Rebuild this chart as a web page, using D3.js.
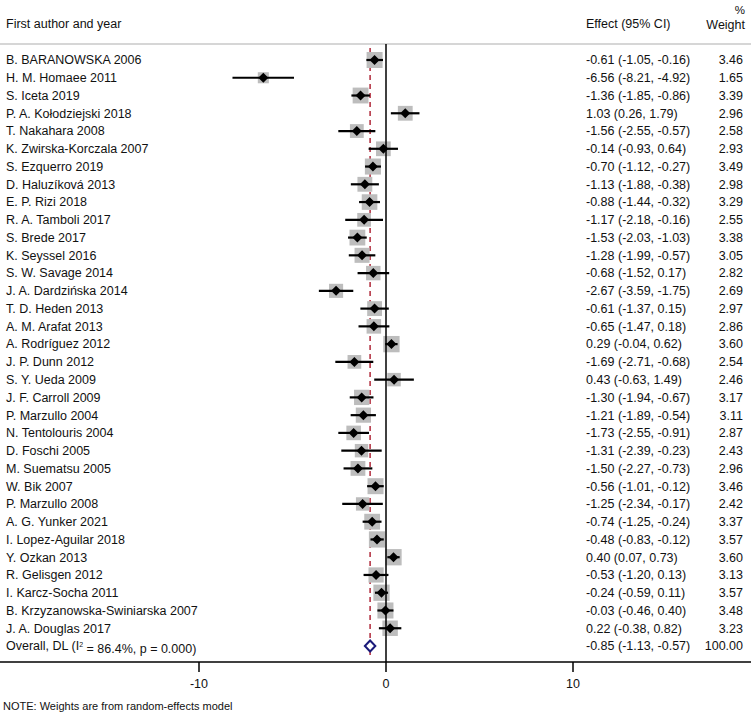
<!DOCTYPE html>
<html><head><meta charset="utf-8">
<script src="https://cdn.jsdelivr.net/npm/d3@7"></script>
<style>
body{margin:0;background:#fff;}
text{font-family:"Liberation Sans",Arial,Helvetica,sans-serif;fill:#111;}
</style></head>
<body><svg id="c" width="751" height="716"></svg>
<script>
const studies = ["B. BARANOWSKA 2006","H. M. Homaee 2011","S. Iceta 2019","P. A. Kołodziejski 2018","T. Nakahara 2008","K. Zwirska-Korczala 2007","S. Ezquerro 2019","D. Haluzíková 2013","E. P. Rizi 2018","R. A. Tamboli 2017","S. Brede 2017","K. Seyssel 2016","S. W. Savage 2014","J. A. Dardzińska 2014","T. D. Heden 2013","A. M. Arafat 2013","A. Rodríguez 2012","J. P. Dunn 2012","S. Y. Ueda 2009","J. F. Carroll 2009","P. Marzullo 2004","N. Tentolouris 2004","D. Foschi 2005","M. Suematsu 2005","W. Bik 2007","P. Marzullo 2008","A. G. Yunker 2021","I. Lopez-Aguilar 2018","Y. Ozkan 2013","R. Gelisgen 2012","I. Karcz-Socha 2011","B. Krzyzanowska-Swiniarska 2007","J. A. Douglas 2017"];
const effect = [-0.61,-6.56,-1.36,1.03,-1.56,-0.14,-0.70,-1.13,-0.88,-1.17,-1.53,-1.28,-0.68,-2.67,-0.61,-0.65,0.29,-1.69,0.43,-1.30,-1.21,-1.73,-1.31,-1.50,-0.56,-1.25,-0.74,-0.48,0.40,-0.53,-0.24,-0.03,0.22];
const lower = [-1.05,-8.21,-1.85,0.26,-2.55,-0.93,-1.12,-1.88,-1.44,-2.18,-2.03,-1.99,-1.52,-3.59,-1.37,-1.47,-0.04,-2.71,-0.63,-1.94,-1.89,-2.55,-2.39,-2.27,-1.01,-2.34,-1.25,-0.83,0.07,-1.20,-0.59,-0.46,-0.38];
const upper = [-0.16,-4.92,-0.86,1.79,-0.57,0.64,-0.27,-0.38,-0.32,-0.16,-1.03,-0.57,0.17,-1.75,0.15,0.18,0.62,-0.68,1.49,-0.67,-0.54,-0.91,-0.23,-0.73,-0.12,-0.17,-0.24,-0.12,0.73,0.13,0.11,0.40,0.82];
const weight = [3.46,1.65,3.39,2.96,2.58,2.93,3.49,2.98,3.29,2.55,3.38,3.05,2.82,2.69,2.97,2.86,3.60,2.54,2.46,3.17,3.11,2.87,2.43,2.96,3.46,2.42,3.37,3.57,3.60,3.13,3.57,3.48,3.23];
const overall = {effect:-0.85, lower:-1.13, upper:-0.57, weight:100.00};
const xTicks = [-10, 0, 10];

const svg = d3.select("#c");
const W = 751, H = 716, FS = 12.5;
const x = d3.scaleLinear().domain([-10,10]).range([199,573]);
const rows = studies.concat(["__overall"]);
const y = d3.scalePoint().domain(rows).range([60,646]);
const loc = d3.formatLocale({decimal:".", thousands:",", grouping:[3], currency:["",""], minus:"-"});
const fmt = loc.format(".2f");
const boxSide = w => 8.6*Math.sqrt(w);

// header
svg.append("text").attr("x",6).attr("y",24).attr("dy","0.35em").attr("font-size",FS).text("First author and year");
svg.append("text").attr("x",586).attr("y",24).attr("dy","0.35em").attr("font-size",FS).text("Effect (95% CI)");
svg.append("text").attr("x",745).attr("y",10).attr("dy","0.35em").attr("font-size",11.5).attr("text-anchor","end").text("%");
svg.append("text").attr("x",745).attr("y",25).attr("dy","0.35em").attr("font-size",FS).attr("text-anchor","end").text("Weight");
svg.append("line").attr("x1",0).attr("x2",W).attr("y1",44).attr("y2",44).attr("stroke","#c8c8c8").attr("stroke-width",1.5);

// overall dashed line
svg.append("line").attr("x1",x(overall.effect)).attr("x2",x(overall.effect)).attr("y1",48).attr("y2",655)
  .attr("stroke","#b0283a").attr("stroke-width",1.5).attr("stroke-dasharray","5,4");

// boxes
const data = studies.map((s,i)=>({s, e:effect[i], l:lower[i], u:upper[i], w:weight[i]}));
svg.append("g").selectAll("rect").data(data).join("rect")
  .attr("x",d=>x(d.e)-boxSide(d.w)/2).attr("y",d=>y(d.s)-boxSide(d.w)/2)
  .attr("width",d=>boxSide(d.w)).attr("height",d=>boxSide(d.w)).attr("fill","#bdbdbd");

// zero line
svg.append("line").attr("x1",x(0)).attr("x2",x(0)).attr("y1",44).attr("y2",662).attr("stroke","#000").attr("stroke-width",1.5);

// CI lines
svg.append("g").selectAll("line").data(data).join("line")
  .attr("x1",d=>x(d.l)).attr("x2",d=>x(d.u)).attr("y1",d=>y(d.s)).attr("y2",d=>y(d.s))
  .attr("stroke","#000").attr("stroke-width",2.2);

// diamonds
const dm = 5;
svg.append("g").selectAll("path").data(data).join("path")
  .attr("d",d=>{const cx=x(d.e), cy=y(d.s); return `M${cx-dm},${cy}L${cx},${cy-dm}L${cx+dm},${cy}L${cx},${cy+dm}Z`;})
  .attr("fill","#000");

// overall diamond
{
  const cy = y("__overall"), h = 5.5;
  svg.append("path").attr("d",`M${x(overall.lower)},${cy}L${x(overall.effect)},${cy-h}L${x(overall.upper)},${cy}L${x(overall.effect)},${cy+h}Z`)
    .attr("fill","#fff").attr("stroke","#1a1a7a").attr("stroke-width",2);
}

// left labels
svg.append("g").selectAll("text").data(data).join("text")
  .attr("x",6).attr("y",d=>y(d.s)).attr("dy","0.35em").attr("font-size",FS).text(d=>d.s);
const ov = svg.append("text").attr("x",6).attr("y",y("__overall")).attr("dy","0.35em").attr("font-size",FS);
ov.append("tspan").text("Overall, DL (I");
ov.append("tspan").attr("font-size",7).attr("dy","-0.45em").text("2");
ov.append("tspan").attr("dy","0.45em").text(" = 86.4%, p = 0.000)");

// right columns
svg.append("g").selectAll("text").data(data).join("text")
  .attr("x",586).attr("y",d=>y(d.s)).attr("dy","0.35em").attr("font-size",FS)
  .text(d=>`${fmt(d.e)} (${fmt(d.l)}, ${fmt(d.u)})`);
svg.append("g").selectAll("text").data(data).join("text")
  .attr("x",743).attr("y",d=>y(d.s)).attr("dy","0.35em").attr("font-size",FS).attr("text-anchor","end")
  .text(d=>fmt(d.w));
svg.append("text").attr("x",586).attr("y",y("__overall")).attr("dy","0.35em").attr("font-size",FS)
  .text(`${fmt(overall.effect)} (${fmt(overall.lower)}, ${fmt(overall.upper)})`);
svg.append("text").attr("x",743).attr("y",y("__overall")).attr("dy","0.35em").attr("font-size",FS).attr("text-anchor","end")
  .text(fmt(overall.weight));

// axis
const axis = svg.append("g").attr("transform","translate(0,662)");
axis.append("line").attr("x1",0).attr("x2",W).attr("stroke","#000").attr("stroke-width",1.5);
axis.selectAll("g.t").data(xTicks).join("g").attr("class","t")
  .each(function(t){
    const g=d3.select(this);
    g.append("line").attr("x1",x(t)).attr("x2",x(t)).attr("y1",0).attr("y2",10).attr("stroke","#000").attr("stroke-width",1.5);
    g.append("text").attr("x",x(t)).attr("y",22).attr("dy","0.35em").attr("text-anchor","middle").attr("font-size",FS).text(loc.format("d")(t));
  });

svg.append("text").attr("x",3).attr("y",706).attr("dy","0.35em").attr("font-size",11).text("NOTE: Weights are from random-effects model");
</script></body></html>
